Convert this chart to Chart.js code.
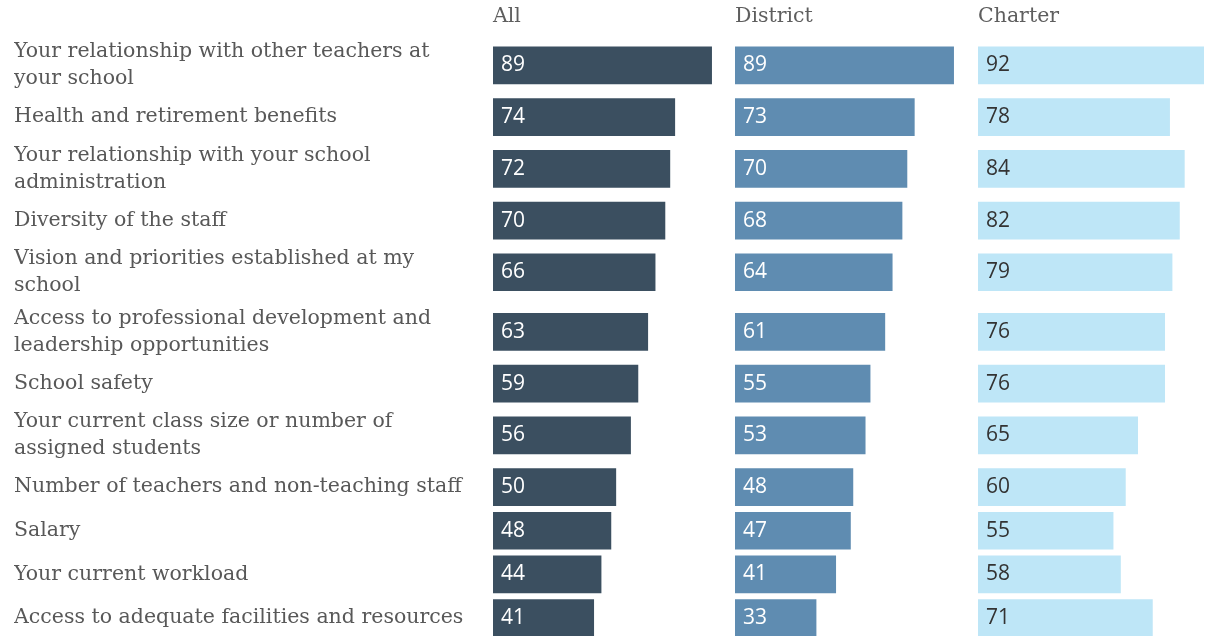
<html>
<head>
<script src="https://cdn.jsdelivr.net/npm/chart.js@4.4.0/dist/chart.umd.min.js"></script>
<style>
body { margin: 0; width: 1209px; height: 636px; overflow: hidden; background: #fff; }
canvas { position: absolute; top: 0; }
</style>
</head>
<body>
<canvas id="chart-all" width="719" height="640" style="left:0px"></canvas>
<canvas id="chart-district" width="226" height="640" style="left:735px"></canvas>
<canvas id="chart-charter" width="226" height="640" style="left:978px"></canvas>
<script>
var categories = [
	['Your relationship with other teachers at', 'your school'],
	['Health and retirement benefits'],
	['Your relationship with your school', 'administration'],
	['Diversity of the staff'],
	['Vision and priorities established at my', 'school'],
	['Access to professional development and', 'leadership opportunities'],
	['School safety'],
	['Your current class size or number of', 'assigned students'],
	['Number of teachers and non-teaching staff'],
	['Salary'],
	['Your current workload'],
	['Access to adequate facilities and resources']
];
var allValues      = [89, 74, 72, 70, 66, 63, 59, 56, 50, 48, 44, 41];
var districtValues = [89, 73, 70, 68, 64, 61, 55, 53, 48, 47, 41, 33];
var charterValues  = [92, 78, 84, 82, 79, 76, 76, 65, 60, 55, 58, 71];

// rows holding a two-line label are taller than single-line ones
var SINGLE_ROW = 43.7, DOUBLE_ROW = 59.7;
var rowCenters = [];
var total = 0;
for (var i = 0; i < categories.length; i++) {
	var h = categories[i].length > 1 ? DOUBLE_ROW : SINGLE_ROW;
	rowCenters.push(total + h / 2);
	total += h;
}
var xMax = Math.max.apply(null, allValues.concat(districtValues, charterValues));

var labelFont = { family: 'DejaVu Serif', size: 20.5, lineHeight: '27px' };

var valueLabels = {
	id: 'valueLabels',
	afterDatasetsDraw: function(chart) {
		var ctx = chart.ctx;
		var ds = chart.data.datasets[0];
		var meta = chart.getDatasetMeta(0);
		ctx.save();
		ctx.font = '21px "Open Sans"';
		ctx.fillStyle = ds.valueColor;
		ctx.textAlign = 'left';
		ctx.textBaseline = 'middle';
		meta.data.forEach(function(bar, i) {
			ctx.fillText(ds.data[i].x, bar.base + 8, bar.y);
		});
		ctx.restore();
	}
};

function makeChart(id, title, values, color, valueColor, showLabels) {
	var points = values.map(function(v, i) { return { x: v, y: rowCenters[i] }; });
	return new Chart(document.getElementById(id).getContext('2d'), {
		type: 'bar',
		data: {
			datasets: [{
				data: points,
				backgroundColor: color,
				valueColor: valueColor,
				barThickness: 37
			}]
		},
		options: {
			responsive: false,
			animation: false,
			indexAxis: 'y',
			layout: { padding: { left: showLabels ? 14 : 0, right: 0, top: 0, bottom: 0 } },
			plugins: {
				legend: { display: false },
				tooltip: { enabled: false },
				title: {
					display: true,
					text: title,
					align: 'start',
					fullSize: false,
					color: '#5e5e5e',
					font: { family: 'DejaVu Serif', size: 20.5, weight: 'normal', lineHeight: 1.2 },
					padding: { top: 4, bottom: 7 }
				}
			},
			scales: {
				x: {
					type: 'linear',
					display: false,
					min: 0,
					max: xMax
				},
				y: {
					type: 'linear',
					display: showLabels,
					reverse: true,
					offset: false,
					min: 0,
					max: total,
					grid: { display: false },
					border: { display: false },
					afterBuildTicks: function(scale) {
						scale.ticks = rowCenters.map(function(c) { return { value: c }; });
					},
					afterFit: function(scale) {
						if (!showLabels) return;
						// fixed label column; no extra room for the first/last labels
						scale.width = 479;
						scale.paddingTop = 0;
						scale.paddingBottom = 0;
					},
					ticks: {
						autoSkip: false,
						crossAlign: 'far',
						color: '#585858',
						font: labelFont,
						callback: function(value, index) { return categories[index]; }
					}
				}
			}
		},
		plugins: [valueLabels]
	});
}

makeChart('chart-all', 'All', allValues, '#3b4f60', '#ffffff', true);
makeChart('chart-district', 'District', districtValues, '#5f8cb1', '#ffffff', false);
makeChart('chart-charter', 'Charter', charterValues, '#bee6f7', '#333333', false);
</script>
</body>
</html>
